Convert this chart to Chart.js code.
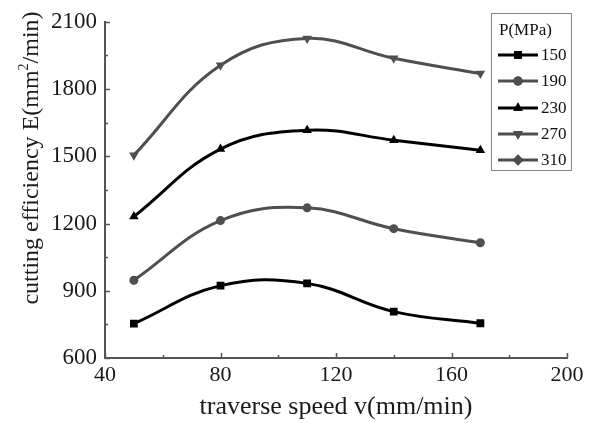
<!DOCTYPE html>
<html>
<head>
<meta charset="utf-8">
<script src="https://cdn.jsdelivr.net/npm/chart.js@4"></script>
<style>
  body { margin: 0; background: #fff; }
  canvas { display: block; }
</style>
</head>
<body>
<canvas id="effChart" width="592" height="423"></canvas>
<script>
// traverse speed (mm/min)
var speeds = [50, 80, 110, 140, 170];
// cutting efficiency E (mm²/min) per pump pressure
var p150 = [753, 923, 933, 807, 755];
var p190 = [947, 1213, 1270, 1177, 1114];
var p230 = [1231, 1532, 1616, 1572, 1527];
var p270 = [1505, 1906, 2026, 1937, 1869];
var p310 = [];
var pressures = ['150', '190', '230', '270', '310'];
var xTicks = [40, 80, 120, 160, 200];
var yTicks = [600, 900, 1200, 1500, 1800, 2100];

var serif = "'Liberation Serif', 'DejaVu Serif', serif";
var dark = '#000000';
var grey = '#4f4f4f';

function pts(vals) {
    return vals.map(function (v, i) { return { x: speeds[i], y: v }; });
}

var series = [p150, p190, p230, p270, p310];
var colors = [dark, grey, dark, grey, grey];
var markers = ['rect', 'circle', 'triangle', 'triangle', 'rectRot'];
var rotations = [0, 0, 0, 180, 0];
var radii = [5.5, 4.5, 5.5, 5.5, 5.5];

var datasets = series.map(function (vals, i) {
    return {
        label: pressures[i],
        data: pts(vals),
        borderColor: colors[i],
        backgroundColor: colors[i],
        borderWidth: 3,
        tension: 0.4,
        pointStyle: markers[i],
        rotation: rotations[i],
        pointRadius: radii[i],
        pointBorderWidth: 0,
        pointHoverRadius: radii[i]
    };
});

// inward tick marks, major and minor
var insideTicks = {
    id: 'insideTicks',
    afterDraw: function (chart) {
        var c = chart.ctx, xs = chart.scales.x, ys = chart.scales.y;
        var a = chart.chartArea;
        c.save();
        c.strokeStyle = '#555';
        c.lineWidth = 1.5;
        for (var v = 40; v <= 200; v += 20) {
            var px = Math.round(xs.getPixelForValue(v)) + 0.5;
            var len = (v % 40 === 0) ? 5 : 3;
            c.beginPath();
            c.moveTo(px, a.bottom);
            c.lineTo(px, a.bottom - len);
            c.stroke();
        }
        for (var w = 600; w <= 2100; w += 150) {
            var py = Math.round(ys.getPixelForValue(w)) + 0.5;
            var l2 = (w % 300 === 0) ? 5 : 3;
            c.beginPath();
            c.moveTo(a.left, py);
            c.lineTo(a.left + l2, py);
            c.stroke();
        }
        c.restore();
    }
};

// rotated y-axis title with a real superscript 2
var yTitle = {
    id: 'yTitle',
    afterDraw: function (chart) {
        var c = chart.ctx;
        var head = 'cutting efficiency E(mm', sup = '2', tail = '/min)';
        c.save();
        c.fillStyle = '#1a1a1a';
        c.textBaseline = 'alphabetic';
        c.textAlign = 'left';
        c.font = '24px ' + serif;
        var wh = c.measureText(head).width, wt = c.measureText(tail).width;
        c.font = '14px ' + serif;
        var ws = c.measureText(sup).width;
        var total = wh + ws + wt;
        c.translate(38, 158);
        c.rotate(-Math.PI / 2);
        var x0 = -total / 2;
        c.font = '24px ' + serif;
        c.fillText(head, x0, 0);
        c.font = '14px ' + serif;
        c.fillText(sup, x0 + wh, -10);
        c.font = '24px ' + serif;
        c.fillText(tail, x0 + wh + ws, 0);
        c.restore();
    }
};

// boxed legend with a title, line + marker samples
var boxLegend = {
    id: 'boxLegend',
    afterDraw: function (chart) {
        var c = chart.ctx;
        var bx = 491, by = 13, bw = 80, bh = 157;
        c.save();
        c.strokeStyle = '#888';
        c.lineWidth = 1;
        c.strokeRect(bx + 0.5, by + 0.5, bw, bh);
        c.fillStyle = '#111';
        c.font = '17px ' + serif;
        c.textBaseline = 'middle';
        c.textAlign = 'left';
        c.fillText('P(MPa)', 499, 31);
        var rows = [55, 81, 108, 134, 160];
        chart.data.datasets.forEach(function (ds, i) {
            var y = rows[i];
            c.strokeStyle = ds.borderColor;
            c.lineWidth = 3;
            c.beginPath();
            c.moveTo(498, y);
            c.lineTo(538, y);
            c.stroke();
            Chart.helpers.drawPoint(c, {
                pointStyle: ds.pointStyle,
                rotation: ds.rotation,
                radius: ds.pointRadius,
                borderWidth: 0
            }, 518, y);
            c.fillStyle = ds.borderColor;
            c.fill();
            c.fillStyle = '#111';
            c.fillText(ds.label, 541, y + 1);
        });
        c.restore();
    }
};

function plain(v) { return String(v); }

new Chart(document.getElementById('effChart'), {
    type: 'line',
    data: { datasets: datasets },
    plugins: [insideTicks, yTitle, boxLegend],
    options: {
        responsive: false,
        animation: false,
        events: [],
        layout: { padding: { top: 21, right: 25, left: 0, bottom: 0 } },
        plugins: { legend: { display: false }, tooltip: { enabled: false } },
        scales: {
            x: {
                type: 'linear',
                min: 40,
                max: 200,
                afterBuildTicks: function (s) { s.ticks = xTicks.map(function (v) { return { value: v }; }); },
                afterFit: function (s) { s.height = 65; },
                grid: { display: false, drawTicks: false },
                border: { display: true, color: '#555', width: 2 },
                ticks: { color: '#1a1a1a', font: { family: serif, size: 22 }, padding: 4, maxRotation: 0, callback: plain },
                title: {
                    display: true,
                    text: 'traverse speed v(mm/min)',
                    color: '#1a1a1a',
                    font: { family: serif, size: 26, lineHeight: 1 },
                    padding: { top: 0, bottom: 3 }
                }
            },
            y: {
                min: 600,
                max: 2100,
                afterBuildTicks: function (s) { s.ticks = yTicks.map(function (v) { return { value: v }; }); },
                afterFit: function (s) { s.width = 105; },
                grid: { display: false, drawTicks: false },
                border: { display: true, color: '#555', width: 2 },
                ticks: { color: '#1a1a1a', font: { family: serif, size: 23 }, padding: 8, callback: plain },
                title: { display: false }
            }
        }
    }
});
</script>
</body>
</html>
